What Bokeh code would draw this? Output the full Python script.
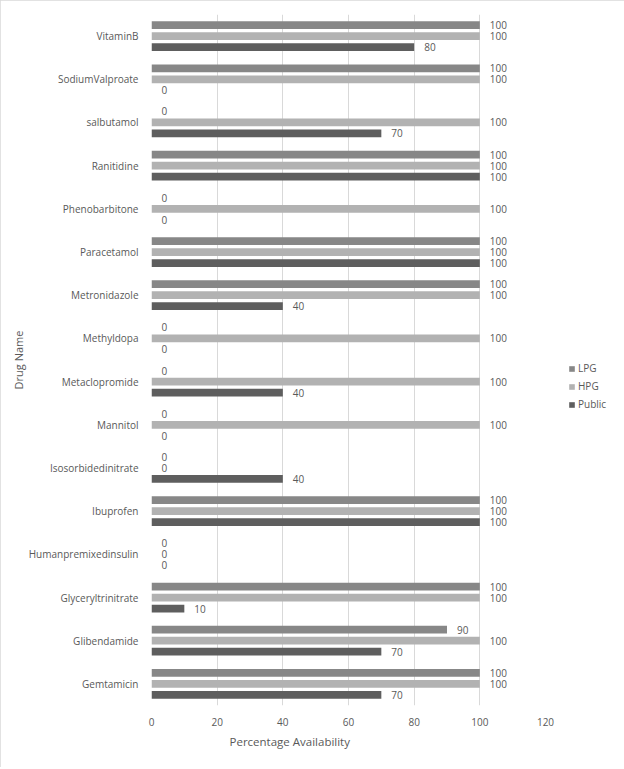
from bokeh.plotting import figure
from bokeh.models import (ColumnDataSource, FactorRange, Range1d, FixedTicker,
                          Legend, LegendItem, Title)
from bokeh.transform import dodge
from bokeh.core.properties import value
from bokeh.embed import file_html
from bokeh.resources import INLINE

# Data (top to bottom as in the picture)
drugs = ["VitaminB", "SodiumValproate", "salbutamol", "Ranitidine", "Phenobarbitone",
         "Paracetamol", "Metronidazole", "Methyldopa", "Metaclopromide", "Mannitol",
         "Isosorbidedinitrate", "Ibuprofen", "Humanpremixedinsulin", "Glyceryltrinitrate",
         "Glibendamide", "Gemtamicin"]
lpg = [100, 100, 0, 100, 0, 100, 100, 0, 0, 0, 0, 100, 0, 100, 90, 100]
hpg = [100, 100, 100, 100, 100, 100, 100, 100, 100, 100, 0, 100, 0, 100, 100, 100]
public = [80, 0, 70, 100, 0, 100, 40, 0, 40, 0, 40, 100, 0, 10, 70, 70]
x_ticks = [0, 20, 40, 60, 80, 100, 120]

FONT = "Open Sans"
TXT = "#595959"
C_LPG, C_HPG, C_PUB = "#878787", "#b2b2b2", "#5e5e5e"

src = ColumnDataSource(dict(
    drug=drugs, lpg=lpg, hpg=hpg, public=public,
    lpg_t=[str(v) for v in lpg], hpg_t=[str(v) for v in hpg],
    public_t=[str(v) for v in public],
))

p = figure(frame_width=394, frame_height=691, output_backend="svg", toolbar_location=None,
           y_range=FactorRange(factors=drugs[::-1], range_padding=0),
           x_range=Range1d(0, 120),
           min_border_left=151, min_border_right=79, min_border_top=14,
           min_border_bottom=62)
p.styles = {"outline": "1px solid #d9d9d9", "outline-offset": "-1px"}
p.outline_line_color = None
p.background_fill_color = "white"
p.border_fill_color = "white"

off = 0.255
h = 0.18
r_lpg = p.hbar(y=dodge("drug", off, range=p.y_range), right="lpg", left=0, height=h,
               fill_color=C_LPG, line_color=None, source=src)
r_hpg = p.hbar(y=dodge("drug", 0, range=p.y_range), right="hpg", left=0, height=h,
               fill_color=C_HPG, line_color=None, source=src)
r_pub = p.hbar(y=dodge("drug", -off, range=p.y_range), right="public", left=0, height=h,
               fill_color=C_PUB, line_color=None, source=src)

for col, o in (("lpg", off), ("hpg", 0), ("public", -off)):
    p.text(x=col, y=dodge("drug", o, range=p.y_range), text=col + "_t", source=src,
           x_offset=10, text_baseline="middle", text_align="left",
           text_font=value(FONT), text_font_size="10px", text_color=TXT)

# grid / axes
p.ygrid.grid_line_color = None
p.xgrid.grid_line_color = "#d9d9d9"
p.xaxis.ticker = FixedTicker(ticks=x_ticks)
for ax in (p.xaxis, p.yaxis):
    ax.axis_line_color = None
    ax.major_tick_line_color = None
    ax.minor_tick_line_color = None
    ax.major_label_text_font = FONT
    ax.major_label_text_font_size = "10px"
    ax.major_label_text_color = TXT
p.xaxis.major_label_standoff = 6
p.yaxis.major_label_standoff = 7
p.yaxis.axis_label = "Drug Name"
p.yaxis.axis_label_text_font = FONT
p.yaxis.axis_label_text_font_size = "11px"
p.yaxis.axis_label_text_font_style = "normal"
p.yaxis.axis_label_text_color = TXT
p.yaxis.axis_label_standoff = 0

p.add_layout(Title(text="Percentage Availability", align="left", offset=78, standoff=6,
                   text_font=FONT, text_font_size="11.5px", text_font_style="normal",
                   text_color=TXT), "below")

legend = Legend(items=[LegendItem(label="LPG", renderers=[r_lpg]),
                       LegendItem(label="HPG", renderers=[r_hpg]),
                       LegendItem(label="Public", renderers=[r_pub])],
                location=(23, 294), padding=0, margin=0, spacing=4,
                glyph_width=7, glyph_height=7, label_height=12, label_standoff=3,
                label_text_font=FONT, label_text_font_size="10px",
                label_text_color=TXT, background_fill_alpha=0,
                border_line_color=None)
p.add_layout(legend, "right")

open("out.html", "w").write(file_html(p, INLINE))
